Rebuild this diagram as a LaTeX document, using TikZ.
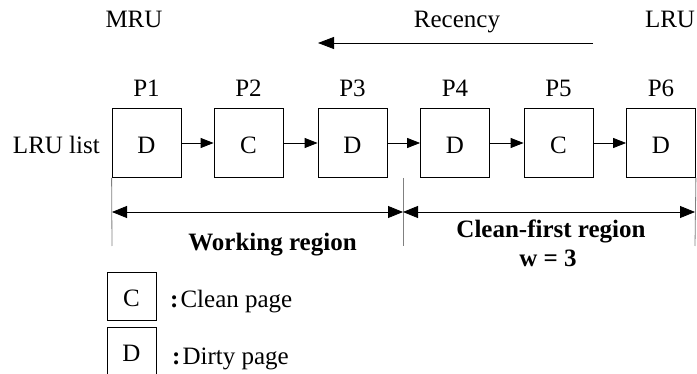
\documentclass[tikz,border=0pt]{standalone}
\usepackage{fontspec}
\setmainfont{Liberation Serif}
\usetikzlibrary{arrows.meta}
\begin{document}
\begin{tikzpicture}[x=1pt,y=-1pt,
  every node/.style={font=\fontsize{25}{29}\selectfont, inner sep=0pt},
  page/.style={draw=black, line width=0.8pt, minimum width=69pt, minimum height=69pt, text height=22pt, text depth=0pt},
  legbox/.style={draw=black, line width=0.8pt, minimum width=49pt, minimum height=48pt, text height=22pt, text depth=0pt},
  txt/.style={anchor=base},
  boldtxt/.style={anchor=base, font=\fontsize{25}{29}\selectfont\bfseries},
  link/.style={line width=0.8pt, -{Triangle[length=13pt,width=10pt]}},
  span/.style={line width=0.8pt, {Triangle[length=15pt,width=12pt]}-{Triangle[length=15pt,width=12pt]}},
  rec/.style={line width=0.8pt, -{Triangle[length=16pt,width=12pt]}},
  divider/.style={draw=black!50, line width=0.8pt}
]
\useasboundingbox (0,0) rectangle (697,374);

% header
\node[txt] (mru) at (134,28) {MRU};
\node[txt] (recency) at (457,28) {Recency};
\node[txt] (lru) at (670,28) {LRU};
\coordinate (r1) at (593,43);
\coordinate (r2) at (318,43);
\draw[rec] (r1) -- (r2);

% pages
\node[page] (b1) at (146.5,143) {D};
\node[page] (b2) at (248.5,143) {C};
\node[page] (b3) at (352.5,143) {D};
\node[page] (b4) at (455,143) {D};
\node[page] (b5) at (558.5,143) {C};
\node[page] (b6) at (661,143) {D};

\foreach \i/\x in {1/146.5,2/248.5,3/352.5,4/455,5/558.5,6/661}
  \node[txt] (p\i) at (\x,97) {P\i};

\node[anchor=base east] (lrulist) at (100,154) {LRU list};

\draw[link] (b1) -- (b2);
\draw[link] (b2) -- (b3);
\draw[link] (b3) -- (b4);
\draw[link] (b4) -- (b5);
\draw[link] (b5) -- (b6);

% region markers
\coordinate (v1) at (112,246);
\coordinate (v2t) at (403,178);
\coordinate (v2) at (403,246);
\coordinate (v3) at (695,246);
\draw[divider] (b1.south west) -- (v1);
\draw[divider] (v2t) -- (v2);
\draw[divider] (b6.south east) -- (v3);

\coordinate (a1) at (112,212);
\coordinate (a2) at (403,212);
\coordinate (a3) at (695,212);
\draw[span] (a1) -- (a2);
\draw[span] (a2) -- (a3);

\node[boldtxt] (work) at (272.5,251) {Working region};
\node[boldtxt] (clean) at (551,238) {Clean-first region};
\node[boldtxt] (w) at (548,266.5) {w = 3};

% legend
\node[legbox] (lc) at (131.5,296) {C};
\node[legbox] (ld) at (131.5,351) {D};
\node[anchor=base west] (lct) at (170,308) {\textbf{:}\hspace{2pt}Clean page};
\node[anchor=base west] (ldt) at (172,365) {\textbf{:}\hspace{2pt}Dirty page};
\end{tikzpicture}
\end{document}
